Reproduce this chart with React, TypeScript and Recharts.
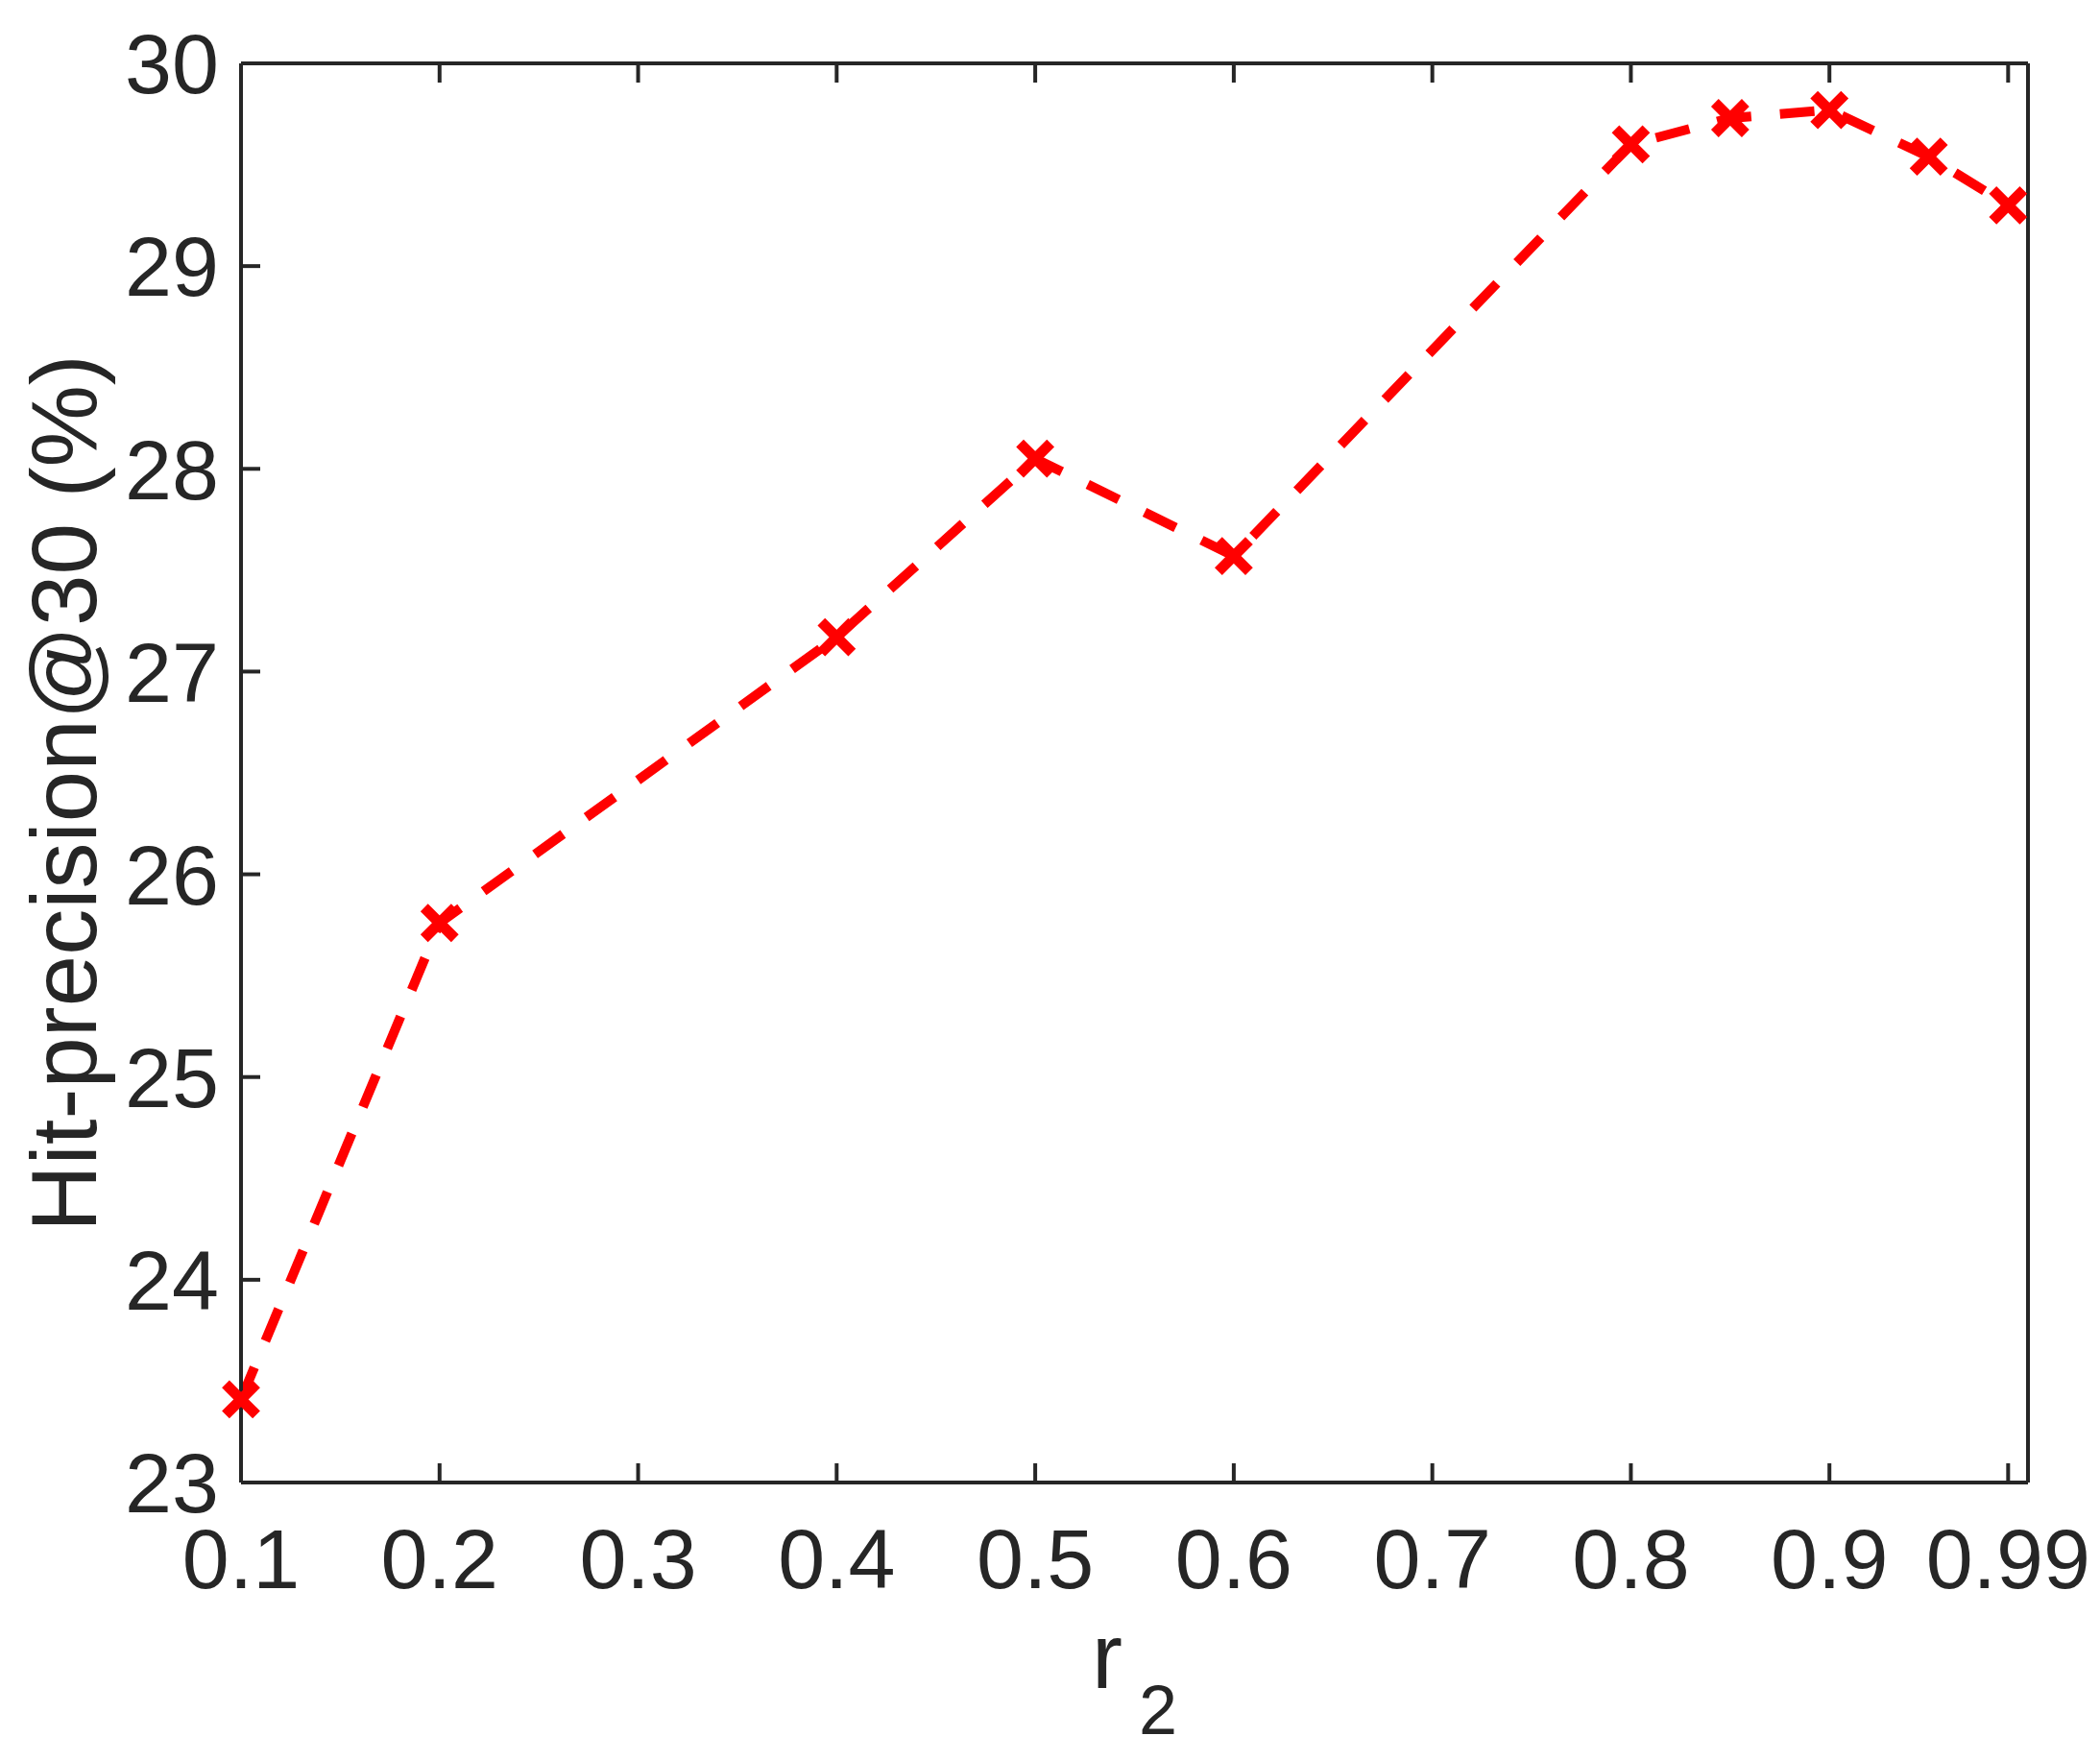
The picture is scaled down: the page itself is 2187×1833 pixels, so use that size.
import { LineChart, Line, XAxis, YAxis } from 'recharts'

const r2Values = [0.1, 0.2, 0.4, 0.5, 0.6, 0.8, 0.85, 0.9, 0.95, 0.99]
const hitPrecision = [23.41, 25.76, 27.17, 28.05, 27.57, 29.6, 29.73, 29.77, 29.54, 29.3]
const xTicks = [0.1, 0.2, 0.3, 0.4, 0.5, 0.6, 0.7, 0.8, 0.9, 0.99]
const yTicks = [23, 24, 25, 26, 27, 28, 29, 30]

const data = r2Values.map((x, i) => ({ x, y: hitPrecision[i] }))

const INK = '#262626'
const RED = '#ff0000'
const FONT = '"Liberation Sans", Arial, Helvetica, sans-serif'

const axisLine = { stroke: INK, strokeWidth: 4 }
const tickLine = { stroke: INK, strokeWidth: 4 }
const tickStyle = { fill: INK, fontSize: 88, fontFamily: FONT }
const blank = () => ''

function XMark(props: any) {
  const { cx, cy, index } = props
  if (cx == null || cy == null) return <g key={index} />
  const s = 16
  return (
    <g key={index}>
      <line x1={cx - s} y1={cy - s} x2={cx + s} y2={cy + s} stroke={RED} strokeWidth={11} />
      <line x1={cx - s} y1={cy + s} x2={cx + s} y2={cy - s} stroke={RED} strokeWidth={11} />
    </g>
  )
}

function XTitle() {
  return (
    <text x={1137} y={1758} fill={INK} fontSize={96} fontFamily={FONT}>
      r
      <tspan dx={17} dy={48} fontSize={72}>2</tspan>
    </text>
  )
}

function YTitle() {
  return (
    <text
      x={100}
      y={826}
      transform="rotate(-90, 100, 826)"
      textAnchor="middle"
      fill={INK}
      fontSize={96}
      fontFamily={FONT}
    >
      Hit-precision@30 (%)
    </text>
  )
}

export default function App() {
  return (
    <div style={{ position: 'absolute', left: 0, top: 0, background: '#fff' }}>
      <LineChart width={2187} height={1833} data={data} margin={{ top: 0, right: 0, bottom: 0, left: 0 }}>
        <XAxis
          xAxisId="b"
          dataKey="x"
          type="number"
          orientation="bottom"
          domain={[0.1, 1]}
          ticks={xTicks}
          interval={0}
          height={289}
          tickSize={-20}
          tickMargin={68}
          axisLine={axisLine}
          tickLine={tickLine}
          tick={tickStyle}
          label={{ content: () => <XTitle /> }}
        />
        <XAxis
          xAxisId="t"
          dataKey="x"
          type="number"
          orientation="top"
          domain={[0.1, 1]}
          ticks={xTicks}
          interval={0}
          height={66}
          tickSize={-20}
          axisLine={axisLine}
          tickLine={tickLine}
          tickFormatter={blank}
        />
        <YAxis
          yAxisId="l"
          orientation="left"
          type="number"
          domain={[23, 30]}
          ticks={yTicks}
          interval={0}
          width={251}
          tickSize={-20}
          tickMargin={43}
          axisLine={axisLine}
          tickLine={tickLine}
          tick={tickStyle}
          label={{ content: () => <YTitle /> }}
        />
        <YAxis
          yAxisId="r"
          orientation="right"
          type="number"
          domain={[23, 30]}
          ticks={yTicks}
          interval={0}
          width={75}
          tickSize={-20}
          axisLine={axisLine}
          tickLine={tickLine}
          tickFormatter={blank}
        />
        <Line
          xAxisId="b"
          yAxisId="l"
          dataKey="y"
          type="linear"
          stroke={RED}
          strokeWidth={10}
          strokeDasharray="36 30"
          dot={(p: any) => <XMark key={p.index} {...p} />}
          activeDot={false}
          isAnimationActive={false}
        />
      </LineChart>
    </div>
  )
}
